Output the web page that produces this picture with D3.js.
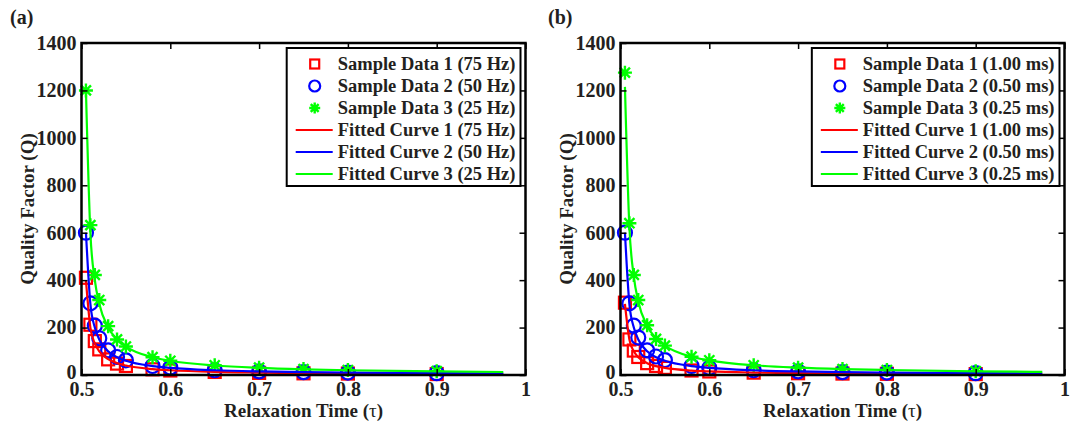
<!DOCTYPE html>
<html>
<head>
<meta charset="utf-8">
<script src="https://cdn.jsdelivr.net/npm/d3@7"></script>
<style>
body { margin: 0; background: #fff; }
text { font-family: "Liberation Serif", "Times New Roman", serif; font-weight: bold; fill: #231f20; }
</style>
</head>
<body>
<svg id="chart" width="1077" height="421"></svg>
<script>
// relaxation times of the samples and of the fitted curves
var tau    = [0.505, 0.51, 0.515, 0.52, 0.53, 0.54, 0.55, 0.58, 0.6, 0.65, 0.7, 0.75, 0.8, 0.9];
var tauFit = [0.505, 0.51, 0.515, 0.52, 0.53, 0.54, 0.55, 0.58, 0.6, 0.65, 0.7, 0.75, 0.8, 0.9, 0.975];

// panel (a)
var sampleA1 = [410, 212, 143, 108, 66, 48, 38, 24, 19, 13, 9, 7, 6, 4];
var sampleA2 = [600, 302, 208, 155, 104, 76, 62, 38, 31, 20, 15, 12, 10, 7.5];
var sampleA3 = [1200, 632, 422, 316, 206, 150, 120, 75, 60, 41, 31, 25, 21, 16];
var fitA1 = [400, 200, 133, 100, 67, 50, 40, 25, 20, 13, 10, 8, 6.7, 5, 4.2];
var fitA2 = [600, 300, 200, 150, 100, 75, 60, 37.5, 30, 20, 15, 12, 10, 7.5, 6.3];
var fitA3 = [1200, 600, 400, 300, 200, 150, 120, 75, 60, 40, 30, 24, 20, 15, 12.6];
var legendA = ["75 Hz", "50 Hz", "25 Hz"];

// panel (b)
var sampleB1 = [305, 150, 103, 76, 50, 38, 30, 19, 15, 10, 7.5, 6, 5, 3.8];
var sampleB2 = [600, 302, 208, 158, 104, 78, 63, 38, 30, 20, 15, 12, 10, 7.5];
var sampleB3 = [1275, 640, 422, 316, 210, 152, 124, 77, 62, 41, 31, 25, 21, 16];
var fitB1 = [300, 150, 100, 75, 50, 37.5, 30, 18.8, 15, 10, 7.5, 6, 5, 3.8, 3.2];
var fitB2 = [600, 300, 200, 150, 100, 75, 60, 37.5, 30, 20, 15, 12, 10, 7.5, 6.3];
var fitB3 = [1215, 625, 415, 310, 207, 155, 124, 77, 62, 41, 31, 25, 21, 15.5, 13];
var legendB = ["1.00 ms", "0.50 ms", "0.25 ms"];

var xTicks = [0.5, 0.6, 0.7, 0.8, 0.9, 1];
var yTicks = [0, 200, 400, 600, 800, 1000, 1200, 1400];
var colors = ["#ff0000", "#0000ff", "#00ff00"];
var shapes = ["square", "circle", "star"];

var svg = d3.select("#chart");
var top0 = 43, bottom0 = 375;

function marker(g, shape, color, cx, cy, s) {
  if (shape == "square") {
    g.append("rect").attr("x", cx - s/2).attr("y", cy - s/2).attr("width", s).attr("height", s)
      .attr("fill", "none").attr("stroke", color).attr("stroke-width", 2.2);
  } else if (shape == "circle") {
    g.append("circle").attr("cx", cx).attr("cy", cy).attr("r", s/2)
      .attr("fill", "none").attr("stroke", color).attr("stroke-width", 2.2);
  } else {
    var r = s/2, d = r * 0.72;
    g.append("path")
      .attr("d", "M" + (cx - r) + "," + cy + "H" + (cx + r) + "M" + cx + "," + (cy - r) + "V" + (cy + r) +
                 "M" + (cx - d) + "," + (cy - d) + "L" + (cx + d) + "," + (cy + d) +
                 "M" + (cx - d) + "," + (cy + d) + "L" + (cx + d) + "," + (cy - d))
      .attr("fill", "none").attr("stroke", color).attr("stroke-width", 2.4);
  }
}

function drawPanel(x0, x1, tag, tagX, samples, fits, units) {
  var x = d3.scaleLinear().domain([0.5, 1]).range([x0, x1]);
  var y = d3.scaleLinear().domain([0, 1400]).range([bottom0, top0]);
  var g = svg.append("g");

  // sample markers
  samples.forEach(function(s, k) {
    var mg = g.append("g");
    s.forEach(function(v, i) {
      marker(mg, shapes[k], colors[k], x(tau[i]), y(v), k == 0 ? 12 : 14);
    });
  });

  // fitted curves
  var line = d3.line().x(function(d, i) { return x(tauFit[i]); }).y(function(d) { return y(d); })
    .curve(d3.curveMonotoneX);
  fits.forEach(function(f, k) {
    g.append("path").datum(f).attr("d", line)
      .attr("fill", "none").attr("stroke", colors[k]).attr("stroke-width", 2.2);
  });

  // axes, ticks inward on all sides
  var ax = g.append("g").attr("class", "axes");
  ax.append("g").attr("transform", "translate(0," + bottom0 + ")")
    .call(d3.axisBottom(x).tickValues(xTicks).tickSize(-6).tickPadding(7).tickFormat(d3.format("")));
  ax.append("g").attr("transform", "translate(0," + top0 + ")")
    .call(d3.axisTop(x).tickValues(xTicks).tickSize(-6).tickFormat(""));
  var yl = ax.append("g").attr("transform", "translate(" + x0 + ",0)")
    .call(d3.axisLeft(y).tickValues(yTicks).tickSize(-6).tickPadding(5).tickFormat(d3.format("d")));
  ax.append("g").attr("transform", "translate(" + x1 + ",0)")
    .call(d3.axisRight(y).tickValues(yTicks).tickSize(-6).tickFormat(""));
  ax.selectAll(".domain").remove();
  ax.selectAll(".tick line").attr("stroke", "#000").attr("stroke-width", 1.5);
  ax.selectAll(".tick text").style("font-size", "20px").attr("fill", "#231f20");
  // lift the zero label a little so it clears the 0.5 label
  yl.selectAll(".tick text").filter(function(d) { return d == 0; }).attr("dy", "0.15em");
  g.append("rect").attr("x", x0).attr("y", top0).attr("width", x1 - x0).attr("height", bottom0 - top0)
    .attr("fill", "none").attr("stroke", "#000").attr("stroke-width", 2.5);

  // titles
  var xt = g.append("text").attr("x", (x0 + x1) / 2).attr("y", 417).attr("text-anchor", "middle")
    .style("font-size", "19px");
  xt.append("tspan").text("Relaxation Time (");
  xt.append("tspan").style("font-weight", "normal").text("τ");
  xt.append("tspan").text(")");
  g.append("text").attr("transform", "translate(" + (x0 - 48) + "," + ((top0 + bottom0) / 2) + ") rotate(-90)")
    .attr("text-anchor", "middle").style("font-size", "19px").text("Quality Factor (Q)");
  g.append("text").attr("x", tagX).attr("y", 24).style("font-size", "20px").text(tag);

  // legend
  var labels = [];
  units.forEach(function(u, k) { labels.push("Sample Data " + (k + 1) + " (" + u + ")"); });
  units.forEach(function(u, k) { labels.push("Fitted Curve " + (k + 1) + " (" + u + ")"); });
  var lg = g.append("g");
  var box = lg.append("rect").attr("fill", "#fff").attr("stroke", "#000").attr("stroke-width", 2);
  var texts = lg.selectAll("text").data(labels).enter().append("text")
    .attr("dy", "0.35em").style("font-size", "18.5px").text(function(d) { return d; });
  var tw = d3.max(texts.nodes(), function(n) { return n.getComputedTextLength(); });
  var bw = 51 + tw + 5, bx = x1 - 5 - bw, by = top0 + 5;
  box.attr("x", bx).attr("y", by).attr("width", bw).attr("height", 138);
  texts.attr("x", bx + 51).attr("y", function(d, i) { return by + 16 + i * 22; });
  labels.forEach(function(d, i) {
    var cy = by + 16 + i * 22;
    if (i < 3) marker(lg, shapes[i], colors[i], bx + 28, cy, i == 0 ? 9 : 11);
    else lg.append("line").attr("x1", bx + 9).attr("x2", bx + 46).attr("y1", cy).attr("y2", cy)
      .attr("stroke", colors[i - 3]).attr("stroke-width", 2);
  });
}

drawPanel(81.5, 525.5, "(a)", 10, [sampleA1, sampleA2, sampleA3], [fitA1, fitA2, fitA3], legendA);
drawPanel(620.5, 1064.5, "(b)", 548, [sampleB1, sampleB2, sampleB3], [fitB1, fitB2, fitB3], legendB);
</script>
</body>
</html>
